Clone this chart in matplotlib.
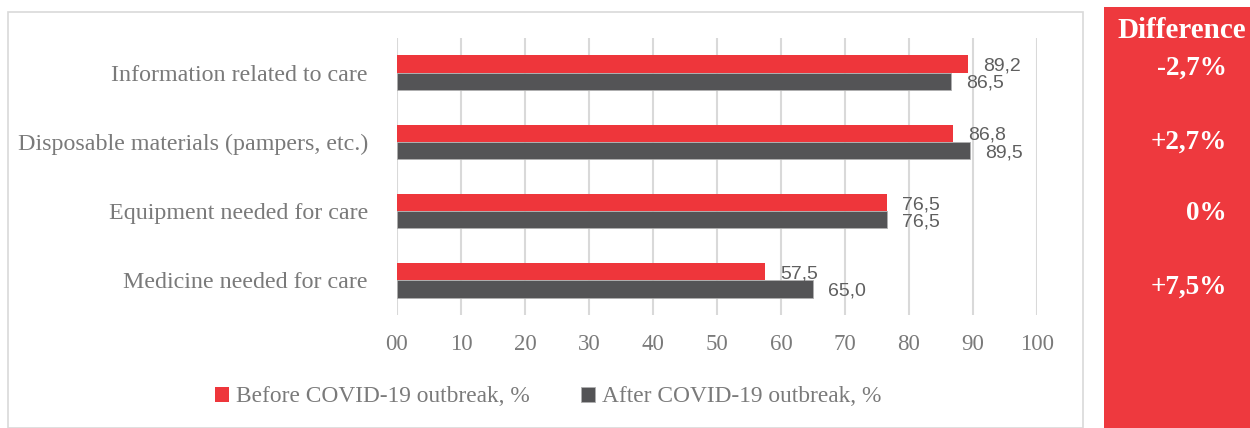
import matplotlib
matplotlib.use("Agg")
import matplotlib.pyplot as plt
from matplotlib.patches import Rectangle
from matplotlib.transforms import offset_copy
import numpy as np

categories = ["Information related to care", "Disposable materials (pampers, etc.)",
              "Equipment needed for care", "Medicine needed for care"]
before = [89.2, 86.8, 76.5, 57.5]
after = [86.5, 89.5, 76.5, 65.0]
differences = ["-2,7%", "+2,7%", "0%", "+7,5%"]
xticks = [0, 10, 20, 30, 40, 50, 60, 70, 80, 90, 100]
xticklabels = ["00", "10", "20", "30", "40", "50", "60", "70", "80", "90", "100"]
series_names = ["Before COVID-19 outbreak, %", "After COVID-19 outbreak, %"]

RED = "#EE363B"
DARK = "#545456"
GRAY_TXT = "#7A7A7A"
SERIF = "Liberation Serif"

W, H = 1250, 428
fig = plt.figure(figsize=(W / 100, H / 100), dpi=100)

# outer chart frame
fig.patches.append(Rectangle((8 / W, 0), (1083 - 8) / W, (H - 12) / H,
                             transform=fig.transFigure, facecolor="none",
                             edgecolor="#D9D9D9", linewidth=1.2, zorder=-1))
# red difference panel
fig.patches.append(Rectangle((1104 / W, 0), (W - 1104) / W, (H - 7) / H,
                             transform=fig.transFigure, facecolor="#EE393E",
                             edgecolor="none", zorder=-1))

ax = fig.add_axes([397 / W, (H - 315) / H, 640 / W, 277 / H])
ax.set_facecolor("none")

n = len(categories)
y = np.arange(n)[::-1].astype(float)  # top category at highest y
bh = 0.25
ax.barh(y + bh / 2, before, height=bh, color=RED, label=series_names[0], zorder=3)
ax.barh(y - bh / 2, after, height=bh, color=DARK, label=series_names[1], zorder=3,
        edgecolor="#B0B0B0", linewidth=0.6)

ax.set_xlim(0, 100)
ax.set_ylim(-0.5, n - 0.5)
ax.set_xticks(xticks)
ax.set_xticklabels(xticklabels, fontfamily=SERIF, fontsize=16.5, color=GRAY_TXT)
ax.set_yticks(y)
ax.set_yticklabels(categories, fontfamily=SERIF, fontsize=17.3, color=GRAY_TXT)
ax.tick_params(axis="x", length=0, pad=14)
ax.tick_params(axis="y", length=0, pad=21)
for s in ax.spines.values():
    s.set_visible(False)
ax.grid(axis="x", color="#D9D9D9", linewidth=1.5, zorder=0)
ax.set_axisbelow(True)

off = offset_copy(ax.transData, fig=fig, x=11, y=-1.5, units="points")
for yi, b, a in zip(y, before, after):
    ax.text(b, yi + bh / 2, f"{b:.1f}".replace(".", ","), transform=off,
            ha="left", va="center", fontsize=14, color="#5F5F5F",
            fontfamily="Liberation Sans")
    ax.text(a, yi - bh / 2, f"{a:.1f}".replace(".", ","), transform=off,
            ha="left", va="center", fontsize=14, color="#5F5F5F",
            fontfamily="Liberation Sans")

# legend
leg = fig.legend(loc="center", bbox_to_anchor=(548.5 / W, 1 - 397 / H), ncol=2,
                 frameon=False, prop={"family": SERIF, "size": 16.8},
                 handlelength=0.6, handleheight=0.6, handletextpad=0.3,
                 columnspacing=2.2, borderpad=0, borderaxespad=0)
for t in leg.get_texts():
    t.set_color(GRAY_TXT)

# difference panel text
fig.text(1182 / W, 1 - 30 / H, "Difference", ha="center", va="center",
         fontfamily=SERIF, fontweight="bold", fontsize=21, color="white")
diff_ypix = [68, 142, 213, 287]
for yp, d in zip(diff_ypix, differences):
    fig.text(1227 / W, 1 - yp / H, d, ha="right", va="center",
             fontfamily=SERIF, fontweight="bold", fontsize=19.5, color="white")

fig.savefig("out.png", dpi=100)
